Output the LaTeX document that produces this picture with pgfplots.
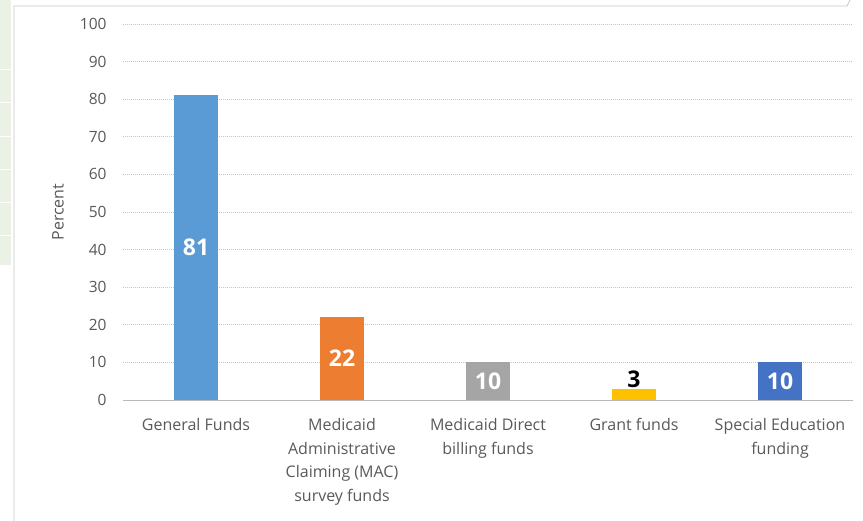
\documentclass[border=0pt]{standalone}
\usepackage{fontspec}
\setmainfont{Open Sans}
\usepackage{pgfplots}
\pgfplotsset{compat=1.18}
\definecolor{cA}{HTML}{5B9BD5}
\definecolor{cB}{HTML}{ED7D31}
\definecolor{cC}{HTML}{A5A5A5}
\definecolor{cD}{HTML}{FFC000}
\definecolor{cE}{HTML}{4472C4}
\definecolor{txt}{HTML}{595959}
\definecolor{strip}{HTML}{EBF1E5}
\begin{document}
\begin{tikzpicture}
\useasboundingbox (0,0) rectangle (863bp,521bp);
% side decoration
\fill[strip] (0,521bp) rectangle (11bp,256bp);
\foreach \yy in {70,103,137,170,203,236}{\draw[white,line width=1bp] (0,521bp-\yy bp) -- (11bp,521bp-\yy bp);}
\draw[gray!45,line width=0.8bp] (14bp,0) -- (14bp,515bp) -- (847bp,515bp) -- (850bp,521bp);
\begin{axis}[
  x=146bp, y=3.76bp,
  anchor=origin, at={(196bp,121bp)},
  xmin=-0.5, xmax=4.5, ymin=0, ymax=100,
  axis line style={draw=none},
  major tick length=0pt,
  ytick={0,10,...,100},
  xtick={0,1,2,3,4},
  xticklabels={General Funds,{Medicaid\\Administrative\\Claiming (MAC)\\survey funds},{Medicaid Direct\\billing funds},Grant funds,{Special Education\\funding}},
  /pgf/number format/assume math mode=true,
  yticklabel style={font=\fontsize{15.5bp}{18bp}\selectfont, text=txt, anchor=east, xshift=-13bp},
  xticklabel style={font=\fontsize{16bp}{23.5bp}\selectfont, text=txt, align=center, anchor=north, yshift=-15bp},
  ymajorgrids,
  grid style={draw=gray!45, dash pattern=on 1bp off 1bp, line width=0.8bp},
  ylabel={Percent},
  ylabel style={at={(rel axis cs:-0.089,0.5)}, anchor=center, font=\fontsize{16bp}{18bp}\selectfont, text=txt},
  clip=false,
]
\draw[gray!55, line width=1bp] (axis cs:-0.5,0) -- (axis cs:4.5,0);
\pgfplotsset{lbl/.style={nodes near coords, visualization depends on={y \as \ry},
   every node near coord/.style={anchor=center, yshift=-\ry*1.88bp, text=white, font=\bfseries\fontsize{23bp}{23bp}\selectfont}}}
\addplot[ybar, bar width=44bp, bar shift=0pt, fill=cA, draw=none, lbl] coordinates {(0,81)};
\addplot[ybar, bar width=44bp, bar shift=0pt, fill=cB, draw=none, lbl] coordinates {(1,22)};
\addplot[ybar, bar width=44bp, bar shift=0pt, fill=cC, draw=none, lbl] coordinates {(2,10)};
\addplot[ybar, bar width=44bp, bar shift=0pt, fill=cD, draw=none, nodes near coords,
   every node near coord/.style={anchor=south, text=black, font=\bfseries\fontsize{23bp}{23bp}\selectfont, inner sep=1bp}] coordinates {(3,3)};
\addplot[ybar, bar width=44bp, bar shift=0pt, fill=cE, draw=none, lbl] coordinates {(4,10)};
\end{axis}
\end{tikzpicture}
\end{document}
